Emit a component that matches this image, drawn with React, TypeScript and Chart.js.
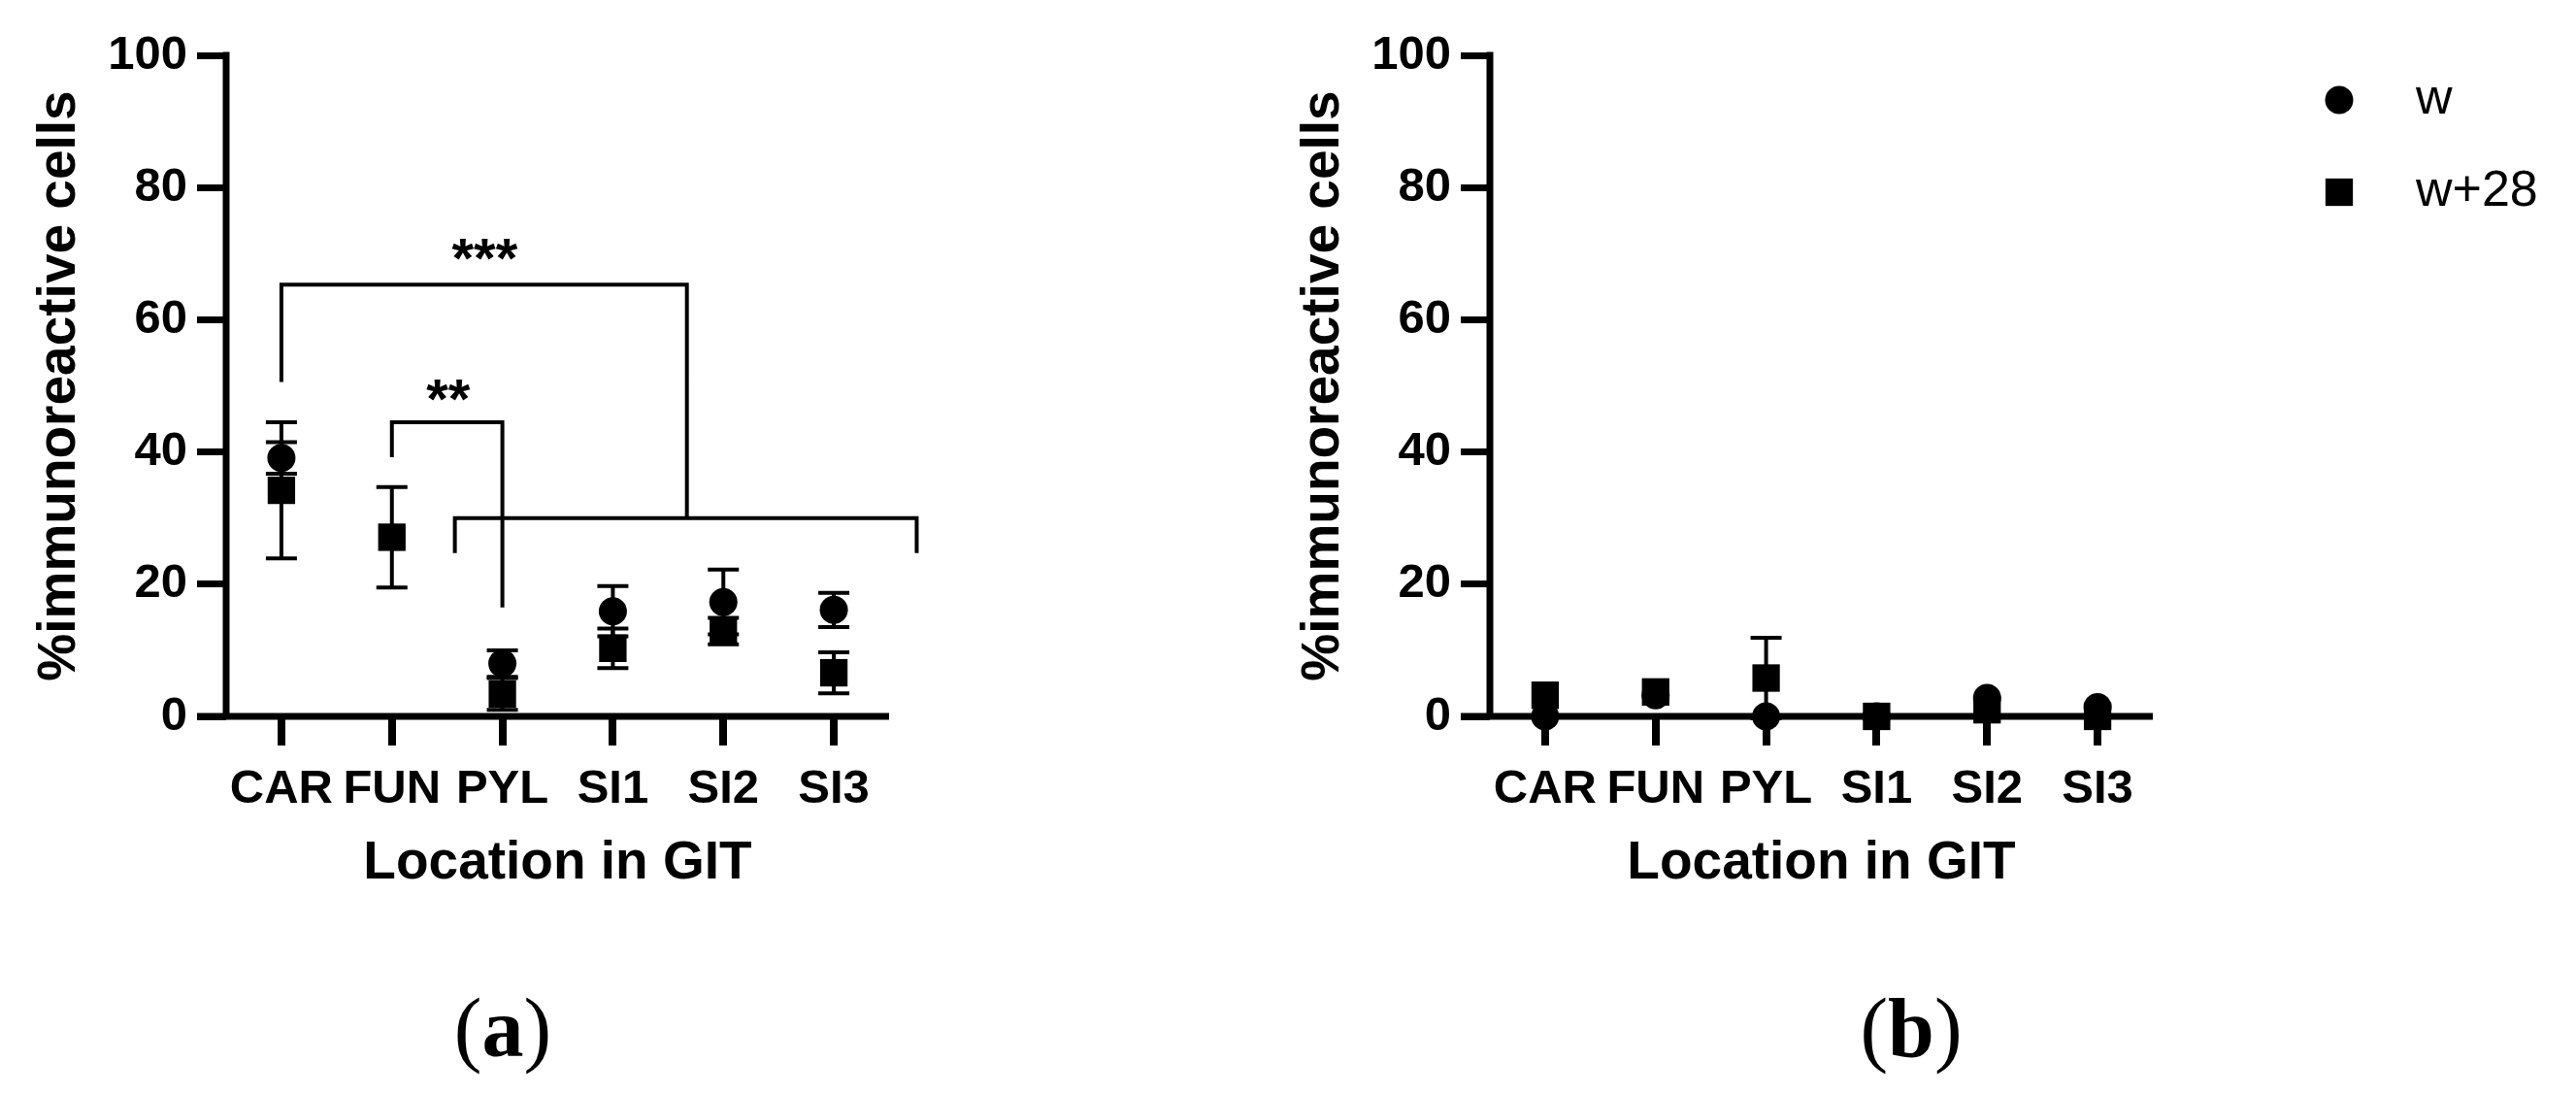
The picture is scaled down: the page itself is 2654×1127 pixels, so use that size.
import React, { useEffect, useRef } from 'react';
import { Chart, registerables } from 'chart.js';

Chart.register(...registerables);

// ---------- data ----------
const categories = ['CAR', 'FUN', 'PYL', 'SI1', 'SI2', 'SI3'];
const yTickValues = [0, 20, 40, 60, 80, 100];
const seriesLabels = ['w', 'w+28'];

// panel (a)
const aWMean = [39.1, null, 8.0, 15.9, 17.3, 16.1];
const aWErr = [2.4, null, 2.0, 3.8, 4.9, 2.6];
const aW28Mean = [34.2, 27.1, 3.4, 10.3, 12.9, 6.6];
const aW28Err = [10.3, 7.6, 2.4, 3.0, 2.0, 3.1];

// panel (b)
const bWMean = [0, 3.2, 0, 0, 2.8, 1.4];
const bWErr = [0, 0, 0, 0, 0, 0];
const bW28Mean = [3.2, 3.7, 5.8, 0, 1.0, 0];
const bW28Err = [0, 0, 6.1, 0, 0, 0];

// significance brackets for panel (a): [category index, value] vertices
const bracketThree = [[0, 50.6], [0, 65.3], [3.67, 65.3], [3.67, 30]];
const bracketGroup = [[1.57, 24.7], [1.57, 30], [5.75, 30], [5.75, 24.7]];
const bracketTwo = [[1, 39.2], [1, 44.5], [2, 44.5], [2, 16.5]];
const starLabels = ['***', '**'];
const starPositions = [[1.84, 70.6], [1.51, 49.3]];

// ---------- styling ----------
const SANS = "'Liberation Sans', Arial, Helvetica, sans-serif";
const SERIF = "'Liberation Serif', 'Times New Roman', Times, serif";
const TICK_LEN = 30;
const AXIS_W = 7;

const axesPlugin = {
  id: 'gpAxes',
  beforeDatasetsDraw(chart: any) {
    const { ctx, chartArea } = chart;
    const { left, right, top, bottom } = chartArea;
    ctx.save();
    ctx.strokeStyle = '#000';
    ctx.lineWidth = AXIS_W;
    ctx.lineCap = 'butt';
    ctx.beginPath();
    ctx.moveTo(left - TICK_LEN, bottom);
    ctx.lineTo(right, bottom);
    ctx.moveTo(left, bottom);
    ctx.lineTo(left, top - AXIS_W / 2);
    ctx.stroke();
    ctx.restore();
  },
};

const errorBarPlugin = {
  id: 'gpErrorBars',
  beforeDatasetsDraw(chart: any) {
    const { ctx } = chart;
    const ys = chart.scales.y;
    ctx.save();
    ctx.strokeStyle = '#000';
    ctx.lineWidth = 4;
    ctx.lineCap = 'butt';
    chart.data.datasets.forEach((ds: any, di: number) => {
      const meta = chart.getDatasetMeta(di);
      meta.data.forEach((pt: any, i: number) => {
        const v = ds.data[i];
        const e = ds.errors ? ds.errors[i] : null;
        if (v == null || !e) return;
        const x = pt.x;
        const yHi = ys.getPixelForValue(v + e);
        const yLo = ys.getPixelForValue(v - e);
        const cap = 16;
        ctx.beginPath();
        ctx.moveTo(x, yHi);
        ctx.lineTo(x, yLo);
        ctx.moveTo(x - cap, yHi);
        ctx.lineTo(x + cap, yHi);
        ctx.moveTo(x - cap, yLo);
        ctx.lineTo(x + cap, yLo);
        ctx.stroke();
      });
    });
    ctx.restore();
  },
};

const bracketPlugin = {
  id: 'gpBrackets',
  afterDatasetsDraw(chart: any) {
    const o = chart.options.plugins.gpBrackets;
    if (!o || !o.paths) return;
    const { ctx } = chart;
    const xs = chart.scales.x;
    const ys = chart.scales.y;
    ctx.save();
    ctx.strokeStyle = '#000';
    ctx.lineWidth = 4;
    ctx.lineJoin = 'miter';
    ctx.lineCap = 'butt';
    o.paths.forEach((path: number[][]) => {
      ctx.beginPath();
      path.forEach(([cx, v], k) => {
        const px = xs.getPixelForValue(cx);
        const py = ys.getPixelForValue(v);
        if (k === 0) ctx.moveTo(px, py);
        else ctx.lineTo(px, py);
      });
      ctx.stroke();
    });
    ctx.fillStyle = '#000';
    ctx.font = `bold ${o.fontSize}px ${SANS}`;
    ctx.textAlign = 'center';
    ctx.textBaseline = 'alphabetic';
    o.labels.forEach((t: string, k: number) => {
      const [cx, v] = o.positions[k];
      const px = xs.getPixelForValue(cx);
      const py = ys.getPixelForValue(v);
      ctx.fillText(t, px, py + o.fontSize * 0.5);
    });
    ctx.restore();
  },
};

const legendPlugin = {
  id: 'gpLegend',
  afterDraw(chart: any) {
    const o = chart.options.plugins.gpLegend;
    if (!o || !o.display) return;
    const { ctx } = chart;
    ctx.save();
    ctx.fillStyle = '#000';
    chart.data.datasets.forEach((ds: any, i: number) => {
      const y = o.y + i * o.gap;
      const r = ds.pointRadius;
      ctx.beginPath();
      if (ds.pointStyle === 'rect') {
        const s = r * Math.SQRT1_2;
        ctx.rect(o.x - s, y - s, 2 * s, 2 * s);
      } else {
        ctx.arc(o.x, y, r, 0, Math.PI * 2);
      }
      ctx.fill();
      ctx.font = `${o.fontSize}px ${SANS}`;
      ctx.textAlign = 'left';
      ctx.textBaseline = 'middle';
      ctx.fillText(ds.label, o.textX, y);
    });
    ctx.restore();
  },
};

function buildConfig(
  wMean: (number | null)[],
  wErr: (number | null)[],
  w28Mean: (number | null)[],
  w28Err: (number | null)[],
  width: number,
  withBrackets: boolean,
  withLegend: boolean,
): any {
  const tickFont = { family: SANS, size: 49, weight: 'bold' as const };
  const titleFont = { family: SANS, size: 55, weight: 'bold' as const };
  return {
    type: 'line',
    data: {
      labels: categories,
      datasets: [
        {
          label: seriesLabels[0],
          data: wMean,
          errors: wErr,
          showLine: false,
          pointStyle: 'circle',
          pointRadius: 14.5,
          pointBorderWidth: 0,
          pointBackgroundColor: '#000',
          backgroundColor: '#000',
          borderColor: '#000',
          clip: false,
          order: 2,
        },
        {
          label: seriesLabels[1],
          data: w28Mean,
          errors: w28Err,
          showLine: false,
          pointStyle: 'rect',
          pointRadius: 20,
          pointBorderWidth: 0,
          pointBackgroundColor: '#000',
          backgroundColor: '#000',
          borderColor: '#000',
          clip: false,
          order: 1,
        },
      ],
    },
    options: {
      animation: false,
      responsive: false,
      devicePixelRatio: 1,
      events: [],
      layout: { padding: { left: 0, top: 57, right: width - 916, bottom: 204 } },
      plugins: {
        legend: { display: false },
        tooltip: { enabled: false },
        gpBrackets: withBrackets
          ? {
              paths: [bracketThree, bracketGroup, bracketTwo],
              labels: starLabels,
              positions: starPositions,
              fontSize: 58,
            }
          : null,
        gpLegend: { display: withLegend, x: 1108, y: 103, gap: 95, textX: 1187, fontSize: 52 },
      },
      scales: {
        x: {
          type: 'category',
          offset: true,
          grid: {
            display: true,
            drawOnChartArea: false,
            drawTicks: true,
            tickLength: TICK_LEN,
            lineWidth: 8,
            tickWidth: 8,
            color: '#000',
            tickColor: '#000',
          },
          border: { display: false },
          ticks: { color: '#000', font: tickFont, padding: 16, maxRotation: 0, autoSkip: false },
          title: { display: true, text: 'Location in GIT', color: '#000', font: titleFont, padding: 0 },
          afterFit: (s: any) => {
            s.height = 185;
          },
        },
        y: {
          type: 'linear',
          min: 0,
          max: 100,
          afterBuildTicks: (s: any) => {
            s.ticks = yTickValues.map((v) => ({ value: v }));
          },
          grid: {
            display: true,
            drawOnChartArea: false,
            drawTicks: true,
            tickLength: TICK_LEN,
            lineWidth: AXIS_W,
            tickWidth: AXIS_W,
            color: '#000',
            tickColor: '#000',
          },
          border: { display: false },
          ticks: { color: '#000', font: tickFont, padding: 10 },
          title: {
            display: true,
            text: '%immunoreactive cells',
            color: '#000',
            font: titleFont,
            padding: { top: 29, bottom: 0 },
          },
          afterFit: (s: any) => {
            s.width = 233;
          },
        },
      },
    },
    plugins: [axesPlugin, errorBarPlugin, bracketPlugin, legendPlugin],
  };
}

function Panel(props: { left: number; width: number; panel: 'a' | 'b' }) {
  const ref = useRef<HTMLCanvasElement>(null);
  useEffect(() => {
    const cfg =
      props.panel === 'a'
        ? buildConfig(aWMean, aWErr, aW28Mean, aW28Err, props.width, true, false)
        : buildConfig(bWMean, bWErr, bW28Mean, bW28Err, props.width, false, true);
    const chart = new Chart(ref.current as HTMLCanvasElement, cfg);
    return () => chart.destroy();
  }, [props.panel, props.width]);
  return (
    <canvas
      ref={ref}
      width={props.width}
      height={1127}
      style={{ position: 'absolute', left: props.left, top: 0, width: props.width, height: 1127 }}
    />
  );
}

function PanelLabel(props: { centerX: number; letter: string }) {
  return (
    <div
      style={{
        position: 'absolute',
        left: props.centerX - 100,
        width: 200,
        top: 1016,
        textAlign: 'center',
        fontFamily: SERIF,
        fontSize: 86,
        lineHeight: 1,
        color: '#000',
      }}
    >
      (<b>{props.letter}</b>)
    </div>
  );
}

export default function App() {
  return (
    <div
      style={{
        position: 'fixed',
        left: 0,
        top: 0,
        width: 2654,
        height: 1127,
        background: '#fff',
        overflow: 'hidden',
      }}
    >
      <Panel left={0} width={1302} panel="a" />
      <Panel left={1302} width={1352} panel="b" />
      <PanelLabel centerX={518} letter="a" />
      <PanelLabel centerX={1969} letter="b" />
    </div>
  );
}
